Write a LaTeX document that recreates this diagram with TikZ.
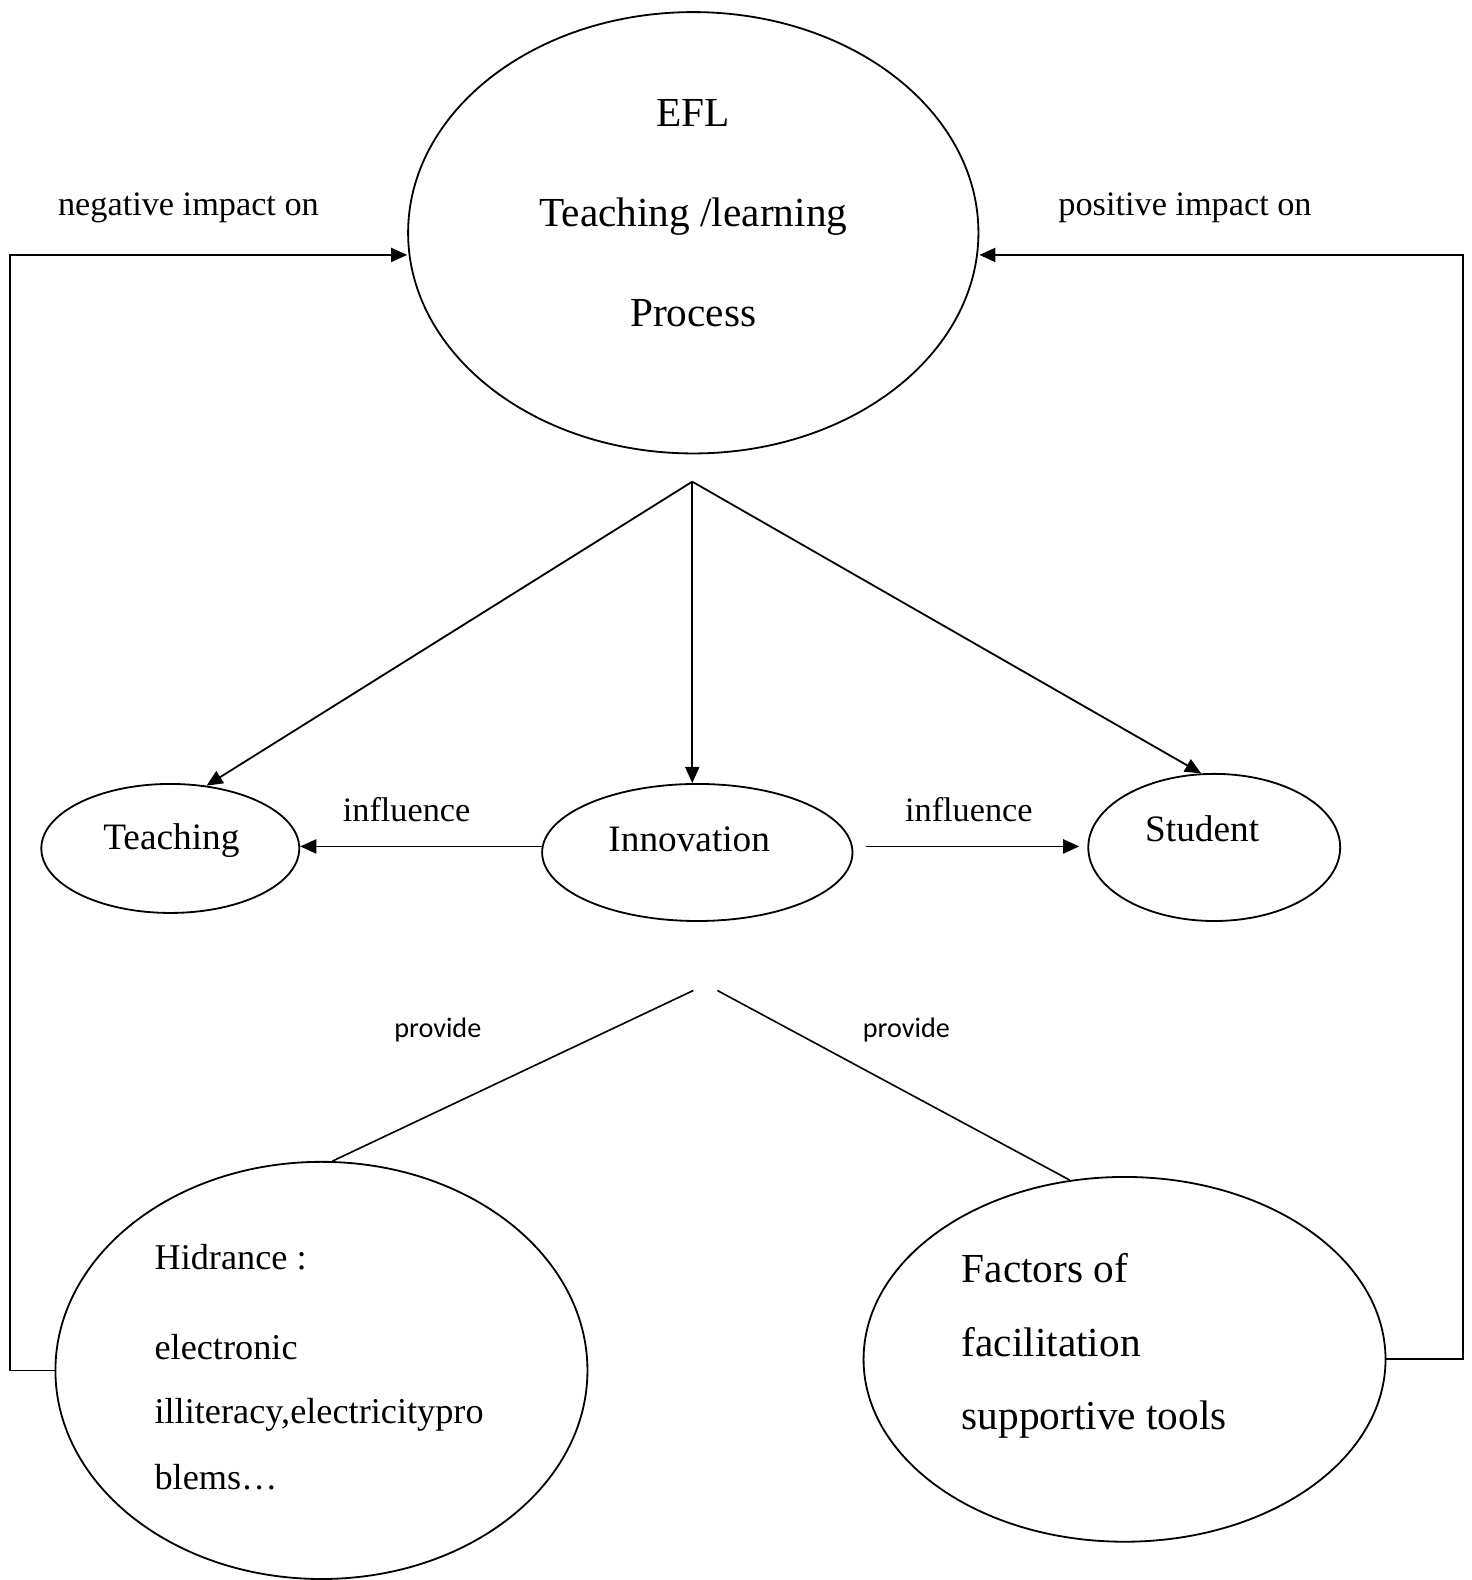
\documentclass[tikz,border=0pt]{standalone}
\usepackage{fontspec}
\setmainfont{Liberation Serif}
\newfontfamily\provfont{Carlito}
\usetikzlibrary{shapes.geometric,arrows.meta}
\begin{document}
\begin{tikzpicture}[x=0.5pt,y=-0.5pt,
  oval/.style={draw,ellipse,inner sep=0pt,line width=0.9pt},
  body/.style={font=\fontsize{18.5}{22}\selectfont,anchor=base,inner sep=0pt},
  bodyt/.style={font=\fontsize{20.5}{24}\selectfont,anchor=base,inner sep=0pt},
  bodyl/.style={font=\fontsize{18}{22}\selectfont,anchor=base west,inner sep=0pt},
  bodyf/.style={font=\fontsize{20.5}{24}\selectfont,anchor=base west,inner sep=0pt},
  lab/.style={font=\fontsize{17}{20}\selectfont,anchor=base,inner sep=0pt},
  prov/.style={font=\provfont\fontsize{14}{16}\selectfont,anchor=base,inner sep=0pt},
  arr/.style={line width=0.9pt,-{Triangle[length=8pt,width=7pt]}},
  ln/.style={line width=0.8pt}]
\useasboundingbox (0,0) rectangle (1460,1568);

% ellipses
\node[oval,minimum width=283pt,minimum height=219pt] (efl) at (688,231) {};
\node[oval,minimum width=128pt,minimum height=64pt] (teach) at (169,842) {};
\node[oval,minimum width=154pt,minimum height=68pt] (innov) at (692,846) {};
\node[oval,minimum width=125pt,minimum height=73pt] (stud) at (1205,841) {};
\node[oval,minimum width=264pt,minimum height=207pt] (hidr) at (319,1360) {};
\node[oval,minimum width=259pt,minimum height=181pt] (fact) at (1116,1349) {};

% texts
\node[bodyt] (t1) at (688,126) {EFL};
\node[bodyt] (t2) at (688,225) {Teaching /learning};
\node[bodyt] (t3) at (688,324) {Process};
\node[body] (tteach) at (170,843) {Teaching};
\node[body] (tinnov) at (684,845) {Innovation};
\node[body] (tstud) at (1193,835) {Student};
\node[bodyl] (h1) at (153,1260) {Hidrance :};
\node[bodyl] (h2) at (153,1349) {electronic};
\node[bodyl] (h3) at (153,1413) {illiteracy,electricitypro};
\node[bodyl] (h4) at (153,1478) {blems\dots};
\node[bodyf] (f1) at (954,1273) {Factors of};
\node[bodyf] (f2) at (954,1346) {facilitation};
\node[bodyf] (f3) at (954,1419) {supportive tools};

% labels
\node[lab] (neg) at (187,214) {negative impact on};
\node[lab] (pos) at (1176,214) {positive impact on};
\node[lab] (infl) at (403.5,815) {influence};
\node[lab] (infr) at (961.5,815) {influence};
\node[prov] (provl) at (434.5,1030) {provide};
\node[prov] (provr) at (899.5,1030) {provide};

% connectors
\coordinate (apex) at (687,478);
\draw[arr] (apex) -- (teach.60);
\draw[arr] (apex) -- (apex |- innov.north);
\draw[arr] (apex) -- (stud.100);
\coordinate (il) at (538,840);
\draw[arr] (il) -- (il -| teach.east);
\coordinate (ir) at (859,840);
\draw[arr,shorten >=4pt] (ir) -- (ir -| stud.west);

\coordinate (pl) at (688,983);
\coordinate (pr) at (712,983);
\draw[ln] (pl) -- (hidr.87);
\draw[ln] (pr) -- (fact.107);

\coordinate (cL) at (10,253);
\coordinate (cR) at (1452,253);
\draw[arr] (hidr.west) -| (cL) -- (cL -| efl.west);
\draw[arr] (fact.east) -| (cR) -- (cR -| efl.east);
\end{tikzpicture}
\end{document}
